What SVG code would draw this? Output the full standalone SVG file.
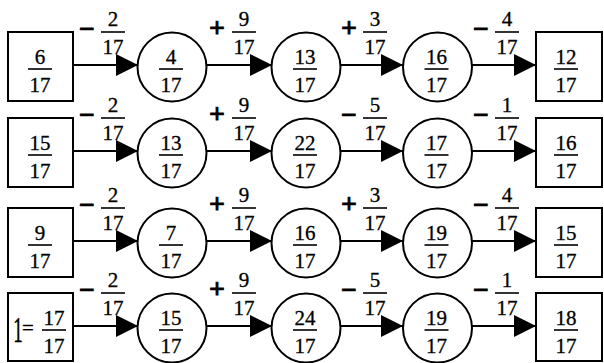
<svg xmlns="http://www.w3.org/2000/svg" width="604" height="363" viewBox="0 0 604 363" font-family="'Liberation Serif', 'DejaVu Serif', serif" font-size="21" text-anchor="middle">
<style>
text{fill:#000;stroke:#000;stroke-width:0.3}
.sg{font-size:28px;font-weight:bold;stroke-width:0.8}
.n{fill:#fff;stroke:#000;stroke-width:2}
.bar{stroke:#000;stroke-width:1.6}
.e{stroke:#000;stroke-width:2.2;fill:none}
</style>
<defs>
<marker id="ah" markerUnits="userSpaceOnUse" markerWidth="22" markerHeight="22" viewBox="0 0 20 20" refX="20" refY="10" orient="auto">
<path d="M0,0 L20,10 L0,20 Z" fill="#000"/>
</marker>
</defs>
<rect width="604" height="363" fill="#fff"/>

<g id="connectors">
<line class="e" x1="73" y1="65" x2="138" y2="65" marker-end="url(#ah)"/>
<line class="e" x1="207" y1="65" x2="272" y2="65" marker-end="url(#ah)"/>
<line class="e" x1="341" y1="65" x2="403" y2="65" marker-end="url(#ah)"/>
<line class="e" x1="472" y1="65" x2="536" y2="65" marker-end="url(#ah)"/>
<line class="e" x1="73" y1="151" x2="138" y2="151" marker-end="url(#ah)"/>
<line class="e" x1="207" y1="151" x2="272" y2="151" marker-end="url(#ah)"/>
<line class="e" x1="341" y1="151" x2="403" y2="151" marker-end="url(#ah)"/>
<line class="e" x1="472" y1="151" x2="536" y2="151" marker-end="url(#ah)"/>
<line class="e" x1="73" y1="241" x2="138" y2="241" marker-end="url(#ah)"/>
<line class="e" x1="207" y1="241" x2="272" y2="241" marker-end="url(#ah)"/>
<line class="e" x1="341" y1="241" x2="403" y2="241" marker-end="url(#ah)"/>
<line class="e" x1="472" y1="241" x2="536" y2="241" marker-end="url(#ah)"/>
<line class="e" x1="73" y1="326" x2="138" y2="326" marker-end="url(#ah)"/>
<line class="e" x1="207" y1="326" x2="272" y2="326" marker-end="url(#ah)"/>
<line class="e" x1="341" y1="326" x2="403" y2="326" marker-end="url(#ah)"/>
<line class="e" x1="472" y1="326" x2="536" y2="326" marker-end="url(#ah)"/>

<g id="labels-r1">
<text class="sg" x="87" y="38">−</text><text x="113" y="26">2</text><line class="bar" x1="101" y1="32" x2="125" y2="32"/><text x="113" y="54">17</text>
<text class="sg" x="217" y="37">+</text><text x="244" y="26">9</text><line class="bar" x1="232" y1="32" x2="256" y2="32"/><text x="244" y="54">17</text>
<text class="sg" x="349" y="37">+</text><text x="375" y="26">3</text><line class="bar" x1="363" y1="32" x2="387" y2="32"/><text x="375" y="54">17</text>
<text class="sg" x="481" y="38">−</text><text x="507" y="26">4</text><line class="bar" x1="495" y1="32" x2="519" y2="32"/><text x="507" y="54">17</text>
</g>
<g id="labels-r2">
<text class="sg" x="87" y="124">−</text><text x="113" y="112">2</text><line class="bar" x1="101" y1="118" x2="125" y2="118"/><text x="113" y="140">17</text>
<text class="sg" x="217" y="123">+</text><text x="244" y="112">9</text><line class="bar" x1="232" y1="118" x2="256" y2="118"/><text x="244" y="140">17</text>
<text class="sg" x="349" y="124">−</text><text x="375" y="112">5</text><line class="bar" x1="363" y1="118" x2="387" y2="118"/><text x="375" y="140">17</text>
<text class="sg" x="481" y="124">−</text><text x="507" y="112">1</text><line class="bar" x1="495" y1="118" x2="519" y2="118"/><text x="507" y="140">17</text>
</g>
<g id="labels-r3">
<text class="sg" x="87" y="214">−</text><text x="113" y="202">2</text><line class="bar" x1="101" y1="208" x2="125" y2="208"/><text x="113" y="230">17</text>
<text class="sg" x="217" y="213">+</text><text x="244" y="202">9</text><line class="bar" x1="232" y1="208" x2="256" y2="208"/><text x="244" y="230">17</text>
<text class="sg" x="349" y="213">+</text><text x="375" y="202">3</text><line class="bar" x1="363" y1="208" x2="387" y2="208"/><text x="375" y="230">17</text>
<text class="sg" x="481" y="214">−</text><text x="507" y="202">4</text><line class="bar" x1="495" y1="208" x2="519" y2="208"/><text x="507" y="230">17</text>
</g>
<g id="labels-r4">
<text class="sg" x="87" y="299">−</text><text x="113" y="287">2</text><line class="bar" x1="101" y1="293" x2="125" y2="293"/><text x="113" y="315">17</text>
<text class="sg" x="217" y="298">+</text><text x="244" y="287">9</text><line class="bar" x1="232" y1="293" x2="256" y2="293"/><text x="244" y="315">17</text>
<text class="sg" x="349" y="299">−</text><text x="375" y="287">5</text><line class="bar" x1="363" y1="293" x2="387" y2="293"/><text x="375" y="315">17</text>
<text class="sg" x="481" y="299">−</text><text x="507" y="287">1</text><line class="bar" x1="495" y1="293" x2="519" y2="293"/><text x="507" y="315">17</text>
</g>
</g>

<g id="r1-start"><rect class="n" x="8" y="32" width="65" height="69"/><text x="40" y="64">6</text><line class="bar" x1="28" y1="69" x2="52" y2="69"/><text x="40" y="92">17</text></g>
<g id="r1-c1"><circle class="n" cx="172" cy="67" r="34.5"/><text x="171" y="64">4</text><line class="bar" x1="159" y1="69" x2="183" y2="69"/><text x="171" y="92">17</text></g>
<g id="r1-c2"><circle class="n" cx="306" cy="67" r="34.5"/><text x="305" y="64">13</text><line class="bar" x1="293" y1="69" x2="317" y2="69"/><text x="305" y="92">17</text></g>
<g id="r1-c3"><circle class="n" cx="437.5" cy="67" r="34.5"/><text x="436.5" y="64">16</text><line class="bar" x1="424.5" y1="69" x2="448.5" y2="69"/><text x="436.5" y="92">17</text></g>
<g id="r1-end"><rect class="n" x="536" y="32" width="66" height="69"/><text x="566" y="64">12</text><line class="bar" x1="554" y1="69" x2="578" y2="69"/><text x="566" y="92">17</text></g>

<g id="r2-start"><rect class="n" x="8" y="118" width="65" height="69"/><text x="40" y="150">15</text><line class="bar" x1="28" y1="155" x2="52" y2="155"/><text x="40" y="178">17</text></g>
<g id="r2-c1"><circle class="n" cx="172" cy="153" r="34.5"/><text x="171" y="150">13</text><line class="bar" x1="159" y1="155" x2="183" y2="155"/><text x="171" y="178">17</text></g>
<g id="r2-c2"><circle class="n" cx="306" cy="153" r="34.5"/><text x="305" y="150">22</text><line class="bar" x1="293" y1="155" x2="317" y2="155"/><text x="305" y="178">17</text></g>
<g id="r2-c3"><circle class="n" cx="437.5" cy="153" r="34.5"/><text x="436.5" y="150">17</text><line class="bar" x1="424.5" y1="155" x2="448.5" y2="155"/><text x="436.5" y="178">17</text></g>
<g id="r2-end"><rect class="n" x="536" y="118" width="66" height="69"/><text x="566" y="150">16</text><line class="bar" x1="554" y1="155" x2="578" y2="155"/><text x="566" y="178">17</text></g>

<g id="r3-start"><rect class="n" x="8" y="208" width="65" height="69"/><text x="40" y="240">9</text><line class="bar" x1="28" y1="245" x2="52" y2="245"/><text x="40" y="268">17</text></g>
<g id="r3-c1"><circle class="n" cx="172" cy="243" r="34.5"/><text x="171" y="240">7</text><line class="bar" x1="159" y1="245" x2="183" y2="245"/><text x="171" y="268">17</text></g>
<g id="r3-c2"><circle class="n" cx="306" cy="243" r="34.5"/><text x="305" y="240">16</text><line class="bar" x1="293" y1="245" x2="317" y2="245"/><text x="305" y="268">17</text></g>
<g id="r3-c3"><circle class="n" cx="437.5" cy="243" r="34.5"/><text x="436.5" y="240">19</text><line class="bar" x1="424.5" y1="245" x2="448.5" y2="245"/><text x="436.5" y="268">17</text></g>
<g id="r3-end"><rect class="n" x="536" y="208" width="66" height="69"/><text x="566" y="240">15</text><line class="bar" x1="554" y1="245" x2="578" y2="245"/><text x="566" y="268">17</text></g>

<g id="r4-start"><rect class="n" x="8" y="293" width="65" height="68"/><text transform="translate(18 342) scale(0.9 1.7)">1</text><text x="28" y="335">=</text><text x="54" y="325">17</text><line class="bar" x1="42" y1="330" x2="66" y2="330"/><text x="54" y="353">17</text></g>
<g id="r4-c1"><circle class="n" cx="172" cy="328" r="34.5"/><text x="171" y="325">15</text><line class="bar" x1="159" y1="330" x2="183" y2="330"/><text x="171" y="353">17</text></g>
<g id="r4-c2"><circle class="n" cx="306" cy="328" r="34.5"/><text x="305" y="325">24</text><line class="bar" x1="293" y1="330" x2="317" y2="330"/><text x="305" y="353">17</text></g>
<g id="r4-c3"><circle class="n" cx="437.5" cy="328" r="34.5"/><text x="436.5" y="325">19</text><line class="bar" x1="424.5" y1="330" x2="448.5" y2="330"/><text x="436.5" y="353">17</text></g>
<g id="r4-end"><rect class="n" x="536" y="293" width="66" height="68"/><text x="566" y="325">18</text><line class="bar" x1="554" y1="330" x2="578" y2="330"/><text x="566" y="353">17</text></g>
</svg>
